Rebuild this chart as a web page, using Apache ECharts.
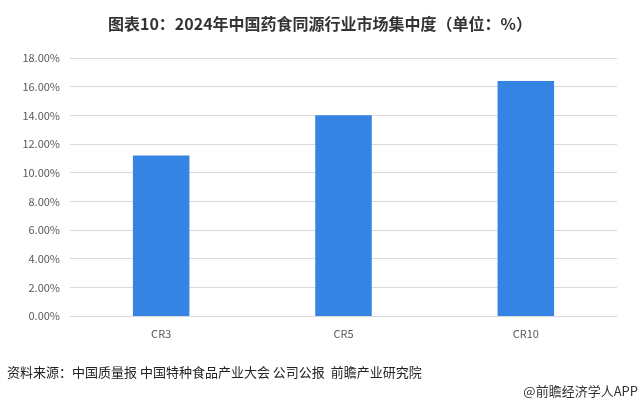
<!DOCTYPE html>
<html><head><meta charset="utf-8">
<script src="https://cdn.jsdelivr.net/npm/echarts@6/dist/echarts.min.js"></script>
<style>html,body{margin:0;padding:0;background:#fff}#c{width:640px;height:407px}</style>
</head><body><div id="c"></div>
<script>
const categories = ['CR3', 'CR5', 'CR10'];
const values = [11.2, 14.0, 16.4];
const titleText = '图表10：2024年中国药食同源行业市场集中度（单位：%）';
const sourceText = '资料来源：中国质量报 中国特种食品产业大会 公司公报  前瞻产业研究院';
const brandText = '@前瞻经济学人APP';
const font = '"Noto Sans CJK SC", "Microsoft YaHei", sans-serif';
const chart = echarts.init(document.getElementById('c'));
chart.setOption({
  animation: false,
  textStyle: { fontFamily: font },
  title: {
    text: titleText, left: 'center', top: 11,
    textStyle: { fontSize: 16, fontWeight: 'bold', color: '#333', fontFamily: font }
  },
  graphic: [
    { type: 'text', left: 7, top: 366, style: { text: sourceText, fontSize: 13, fill: '#222', fontFamily: font } },
    { type: 'text', right: 2, top: 385, style: { text: brandText, fontSize: 13, fill: '#333', fontFamily: font } }
  ],
  grid: { left: 70, right: 23, top: 58, bottom: 91 },
  xAxis: {
    type: 'category', data: categories,
    axisLine: { lineStyle: { color: '#d9d9d9' } },
    axisTick: { show: false },
    axisLabel: { color: '#595959', fontSize: 11, margin: 12, fontFamily: font }
  },
  yAxis: {
    type: 'value', min: 0, max: 18, interval: 2,
    axisLine: { show: false }, axisTick: { show: false },
    splitLine: { lineStyle: { color: '#d9d9d9' } },
    axisLabel: { color: '#595959', fontSize: 11, margin: 10, fontFamily: font,
      formatter: v => v.toFixed(2) + '%' }
  },
  series: [{
    type: 'bar', data: values, barWidth: '31%',
    itemStyle: { color: '#3583E3' }
  }]
});
</script></body></html>
